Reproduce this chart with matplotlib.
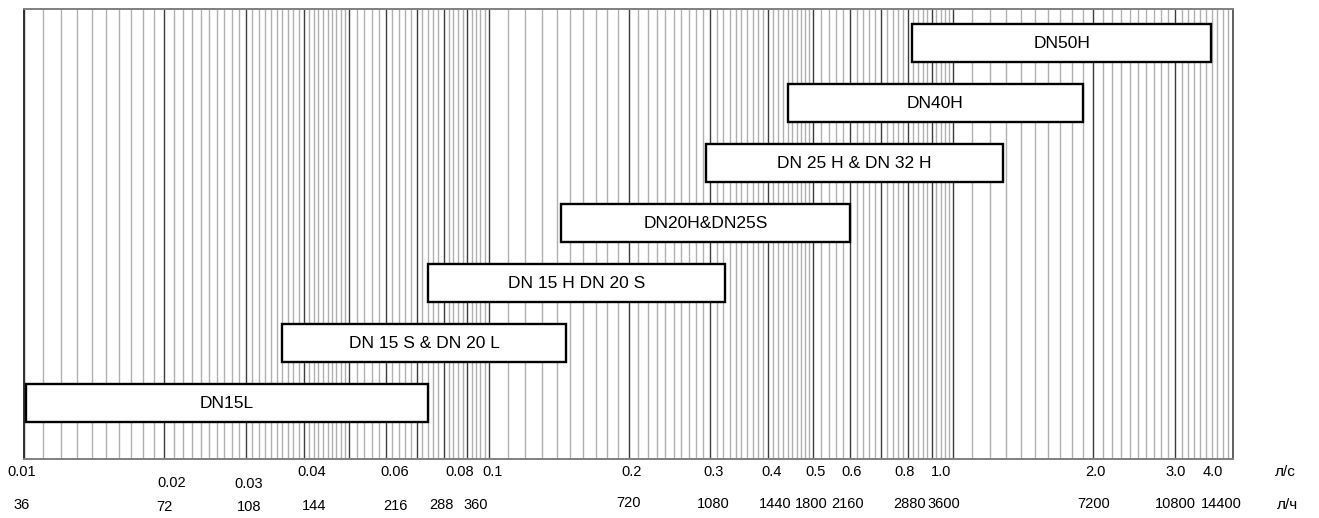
import numpy as np
import matplotlib
matplotlib.use("Agg")
import matplotlib.pyplot as plt
from matplotlib.ticker import FixedLocator, NullFormatter

plt.rcParams['font.family'] = ['Liberation Sans', 'DejaVu Sans']

# Flow ranges per meter size, l/s
models = ["DN15L", "DN 15 S & DN 20 L", "DN 15 H DN 20 S", "DN20H&DN25S",
          "DN 25 H & DN 32 H", "DN40H", "DN50H"]
flow_min = [0.0101, 0.0359, 0.0739, 0.143, 0.293, 0.44, 0.816]
flow_max = [0.0739, 0.147, 0.323, 0.60, 1.28, 1.90, 3.59]

# Scale labels: l/s and the matching l/h
scale_ticks = [0.01, 0.02, 0.03, 0.04, 0.06, 0.08, 0.1, 0.2, 0.3, 0.4,
               0.5, 0.6, 0.8, 1.0, 2.0, 3.0, 4.0]
lps_labels = ["0.01", "0.02", "0.03", "0.04", "0.06", "0.08", "0.1", "0.2",
              "0.3", "0.4", "0.5", "0.6", "0.8", "1.0", "2.0", "3.0", "4.0"]
lph_labels = ["36", "72", "108", "144", "216", "288", "360", "720", "1080",
              "1440", "1800", "2160", "2880", "3600", "7200", "10800", "14400"]

# small label nudges in pixels (dx, dy)
lps_nudge = [(-2, 0), (8, -11), (3, -12), (8, 0), (9, 0), (16, 0), (4, 0),
             (3, 0), (3, 0), (3, 0), (2, 0), (1, 0), (-4, 0), (-12, 0),
             (2, 0), (1, 0), (-20, 0)]
lph_nudge = [(-2, 0), (1, -2), (3, -2), (10, -1), (10, -1), (-2, 0), (-13, 0),
             (0, 2), (3, 1), (7, 1), (-2, 1), (-3, 1), (1, 1), (-9, 1),
             (0, 1), (0, 1), (-12, 1)]

X_MIN, X_MAX = 0.01, 4.0

fig = plt.figure(figsize=(13.19, 5.18), dpi=100)
ax = fig.add_axes([24 / 1319, 59 / 518, 1209 / 1319, 450 / 518])
ax.set_xscale('log')
ax.set_xlim(X_MIN, X_MAX)
ax.set_ylim(-0.933, 6.567)

# log-paper grid: integer multiples dark, finer subdivisions light
major_lines, minor_lines = [], []
for dec in [0.01, 0.1, 1.0]:
    for k in range(1, 10):
        v = k * dec
        if X_MIN <= v <= X_MAX + 1e-9:
            major_lines.append(v)
    fine = np.concatenate([np.arange(1.0, 5.0, 0.1), np.arange(5.0, 10.0, 0.2)])
    for f in fine:
        v = round(f * dec, 6)
        if abs(f - round(f)) > 1e-6 and X_MIN <= v <= X_MAX:
            minor_lines.append(v)

ax.xaxis.set_major_locator(FixedLocator(major_lines))
ax.xaxis.set_minor_locator(FixedLocator(minor_lines))
ax.xaxis.set_major_formatter(NullFormatter())
ax.xaxis.set_minor_formatter(NullFormatter())
ax.tick_params(axis='x', which='both', length=0)
ax.set_yticks([])
ax.grid(True, which='major', axis='x', color='#3c3c3c', linewidth=1.0, zorder=1)
ax.grid(True, which='minor', axis='x', color='#b0b0b0', linewidth=1.0, zorder=1)
ax.set_axisbelow(True)

for side, col in [('left', '#303030'), ('right', '#606060'),
                  ('top', '#808080'), ('bottom', '#808080')]:
    ax.spines[side].set_color(col)
    ax.spines[side].set_linewidth(1.4)

# range bars
rows = np.arange(len(models))
widths = [hi - lo for lo, hi in zip(flow_min, flow_max)]
ax.barh(rows, widths, left=flow_min, height=0.633, color='white',
        edgecolor='black', linewidth=1.7, zorder=3)
for r, name, lo, hi in zip(rows, models, flow_min, flow_max):
    ax.text(np.sqrt(lo * hi), r, name, ha='center', va='center',
            fontsize=12.5, zorder=4)

# two-row scale: l/s and l/h
for v, lab, (dx, dy) in zip(scale_ticks, lps_labels, lps_nudge):
    ax.annotate(lab, xy=(v, -0.0278), xycoords=('data', 'axes fraction'),
                xytext=(dx, dy), textcoords='offset pixels',
                ha='center', va='center', fontsize=10.5, annotation_clip=False)
for v, lab, (dx, dy) in zip(scale_ticks, lph_labels, lph_nudge):
    ax.annotate(lab, xy=(v, -0.102), xycoords=('data', 'axes fraction'),
                xytext=(dx, dy), textcoords='offset pixels',
                ha='center', va='center', fontsize=10.5, annotation_clip=False)

ax.text(1.043, -0.0278, "л/с", transform=ax.transAxes, ha='center',
        va='center', fontsize=11, clip_on=False)
ax.text(1.045, -0.102, "л/ч", transform=ax.transAxes, ha='center',
        va='center', fontsize=11, clip_on=False)

fig.savefig("out.png", dpi=100, facecolor='white')
